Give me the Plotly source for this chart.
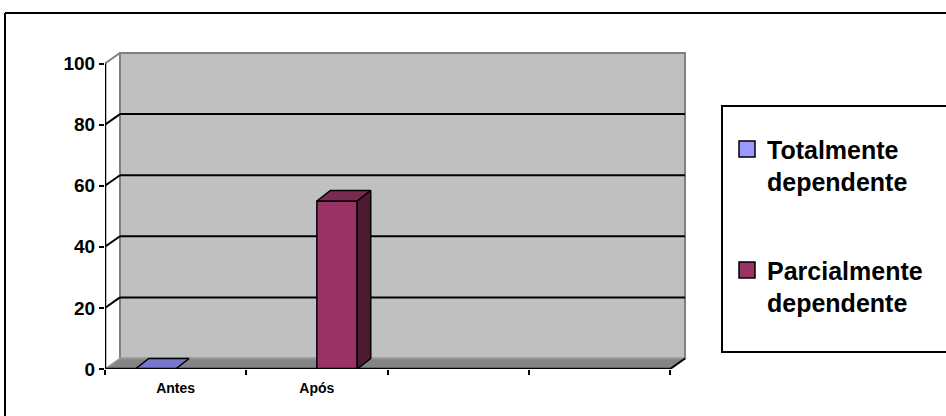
import plotly.graph_objects as go

# ---------------- data ----------------
categories = ["Antes", "Após", "", ""]
series_names = ["Totalmente<br>dependente", "Parcialmente<br>dependente"]
totalmente = [0, None, None, None]
parcialmente = [None, 55, None, None]
y_ticks = [0, 20, 40, 60, 80, 100]

front_colors = ["#9999FF", "#993366"]
top_colors = ["#7777CC", "#7A2952"]
side_colors = ["#5C5C99", "#4D1A33"]

# ---------------- layout geometry ----------------
W, H = 946, 416
FX0, FX1 = 105, 670          # front x-axis pixel span
FY0, FY100 = 369, 63.5       # front y pixel of 0 and 100
DX_PX, DY_PX = 15, 10.5      # 3D depth offset in pixels
MT = 50
MR = W - (FX1 + DX_PX + 3)
ML, MB = FX0, H - FY0

n = len(categories)
ppx = (FX1 - FX0) / n
ppy = (FY0 - FY100) / 100.0
DX, DY = DX_PX / ppx, DY_PX / ppy
x_lo, x_hi = -0.5, n - 0.5
x_range = [x_lo, x_hi + (W - MR - FX1) / ppx]
y_top = (FY0 - MT) / ppy
y_range = [0, y_top]
plot_w = W - ML - MR
plot_h = H - MT - MB

BW = 1 / 3.5                 # bar width (gap width 150%)
BDX, BDY = DX * 0.9, DY      # bar depth

FONT = "Liberation Sans, Arial, sans-serif"

fig = go.Figure()

# ---------------- bars (front faces + 3D faces) ----------------
all_series = [totalmente, parcialmente]
for s, vals in enumerate(all_series):
    off = -BW + s * BW
    fig.add_trace(go.Bar(
        x=list(range(n)), y=vals, width=BW, offset=off,
        marker=dict(color=front_colors[s], line=dict(color="black", width=1.5)),
        showlegend=False, hoverinfo="skip"))
    for i, v in enumerate(vals):
        if v is None:
            continue
        x0 = i + off
        x1 = x0 + BW
        # top face
        fig.add_trace(go.Scatter(
            x=[x0, x1, x1 + BDX, x0 + BDX, x0],
            y=[v, v, v + BDY, v + BDY, v],
            mode="lines", fill="toself", fillcolor=top_colors[s],
            line=dict(color="black", width=1.5),
            showlegend=False, hoverinfo="skip"))
        if v > 0:
            # side face
            fig.add_trace(go.Scatter(
                x=[x1, x1 + BDX, x1 + BDX, x1, x1],
                y=[0, BDY, v + BDY, v, 0],
                mode="lines", fill="toself", fillcolor=side_colors[s],
                line=dict(color="black", width=1.5),
                showlegend=False, hoverinfo="skip"))

# legend entries
for s, name in enumerate(series_names):
    label = name + ("<br> " if s == len(series_names) - 1 else "")
    fig.add_trace(go.Scatter(
        x=[None], y=[None], mode="markers", name=label,
        legendgroup=f"g{s}",
        marker=dict(symbol="square", size=16, color=front_colors[s],
                    line=dict(color="black", width=1.5))))

# ---------------- walls, floor, gridlines ----------------
shapes = []
# back wall
shapes.append(dict(type="rect", xref="x", yref="y", layer="below",
                   x0=x_lo + DX, x1=x_hi + DX, y0=DY, y1=100 + DY,
                   fillcolor="#C0C0C0", line=dict(color="#808080", width=2)))
# floor
shapes.append(dict(type="path", xref="x", yref="y", layer="below",
                   path=f"M{x_lo},0 L{x_hi},0 L{x_hi + DX},{DY} L{x_lo + DX},{DY} Z",
                   fillcolor="#848484", line=dict(color="#999999", width=1.5)))
# back gridlines and side connectors
for v in y_ticks[1:]:
    col = "#808080" if v == y_ticks[-1] else "black"
    if v != y_ticks[-1]:
        shapes.append(dict(type="line", xref="x", yref="y", layer="below",
                           x0=x_lo + DX, x1=x_hi + DX, y0=v + DY, y1=v + DY,
                           line=dict(color="black", width=2)))
    shapes.append(dict(type="line", xref="x", yref="y", layer="below",
                       x0=x_lo, x1=x_lo + DX, y0=v, y1=v + DY,
                       line=dict(color=col, width=2)))
# front axes
shapes.append(dict(type="line", xref="x", yref="y", layer="above",
                   x0=x_lo, x1=x_hi, y0=0, y1=0, line=dict(color="black", width=2.5)))
shapes.append(dict(type="line", xref="x", yref="y", layer="above",
                   x0=x_hi, x1=x_hi + DX, y0=0, y1=DY, line=dict(color="black", width=2)))
shapes.append(dict(type="line", xref="x", yref="y", layer="above",
                   x0=x_lo, x1=x_lo, y0=0, y1=100, line=dict(color="black", width=2.5)))

def px_to_paper_x(px):
    return (px - ML) / plot_w

def px_to_paper_y(py):
    return (H - MB - py) / plot_h

# outer chart border (top and left edges; continues past the window)
shapes.append(dict(type="line", xref="paper", yref="paper", layer="above",
                   x0=px_to_paper_x(5), x1=px_to_paper_x(W),
                   y0=px_to_paper_y(13), y1=px_to_paper_y(13),
                   line=dict(color="black", width=2)))
shapes.append(dict(type="line", xref="paper", yref="paper", layer="above",
                   x0=px_to_paper_x(5), x1=px_to_paper_x(5),
                   y0=px_to_paper_y(13), y1=px_to_paper_y(H),
                   line=dict(color="black", width=2)))
# legend frame (continues past the right edge of the window)
shapes.append(dict(type="rect", xref="paper", yref="paper", layer="above",
                   x0=px_to_paper_x(722), x1=px_to_paper_x(W + 30),
                   y0=px_to_paper_y(352), y1=px_to_paper_y(106),
                   line=dict(color="black", width=2), fillcolor="rgba(0,0,0,0)"))

fig.update_layout(
    width=W, height=H,
    margin=dict(l=ML, r=MR, t=MT, b=MB, autoexpand=False),
    paper_bgcolor="white", plot_bgcolor="rgba(0,0,0,0)",
    barmode="overlay",
    shapes=shapes,
    showlegend=True,
    legend=dict(
        x=px_to_paper_x(727), y=px_to_paper_y(108),
        xanchor="left", yanchor="top",
        borderwidth=0, bgcolor="rgba(0,0,0,0)",
        font=dict(family=FONT, size=25, color="black", weight="bold"),
        traceorder="grouped", tracegroupgap=53, valign="top",
        title=dict(text=" ", font=dict(size=14)),
    ),
    xaxis=dict(
        range=x_range, showgrid=False, zeroline=False, showline=False,
        tickmode="array", tickvals=list(range(n)), ticktext=categories,
        ticks="outside", ticklen=6, tickcolor="rgba(0,0,0,0)",
        tickfont=dict(family=FONT, size=14, color="black", weight="bold"),
        minor=dict(tickmode="array",
                   tickvals=[x_lo + k for k in range(n + 1)],
                   ticks="outside", ticklen=5, tickwidth=2, tickcolor="black"),
        fixedrange=True,
    ),
    yaxis=dict(
        range=y_range, showgrid=False, zeroline=False, showline=False,
        tickmode="array", tickvals=y_ticks,
        ticks="outside", ticklen=5, tickwidth=2, tickcolor="black",
        tickfont=dict(family=FONT, size=19, color="black", weight="bold"),
        fixedrange=True,
    ),
)

fig.write_html("out.html")
